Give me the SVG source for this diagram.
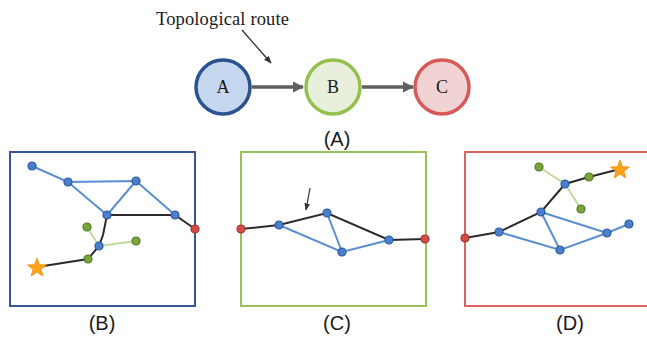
<svg xmlns="http://www.w3.org/2000/svg" width="647" height="341" viewBox="0 0 647 341">
<defs>
<style>
.serif{font-family:"Liberation Serif","Times New Roman",serif;fill:#1a1a1a}
.sans{font-family:"Liberation Sans",Arial,sans-serif;fill:#1a1a1a;font-size:20px;text-anchor:middle}
.bl{stroke:#5b8fd1;stroke-width:2;fill:none}
.bk{stroke:#2b2b2b;stroke-width:2;fill:none}
.lg{stroke:#c3da9e;stroke-width:2;fill:none}
.nb{fill:#4a7fcf;stroke:#2d5a9a;stroke-width:1.2}
.ng{fill:#7aa53c;stroke:#4e7a22;stroke-width:1.2}
.nr{fill:#d24b45;stroke:#a33430;stroke-width:1.2}
.star{fill:#ffa21a;stroke:#f08a00;stroke-width:0.8}
</style>
<marker id="ah" viewBox="0 0 10 10" refX="9" refY="5" markerWidth="3.2" markerHeight="3.2" orient="auto" markerUnits="strokeWidth">
<path d="M0,0 L10,5 L0,10 z" fill="#5f5f5f"/>
</marker>
<marker id="sh" viewBox="0 0 10 10" refX="9" refY="5" markerWidth="6" markerHeight="6" orient="auto" markerUnits="strokeWidth">
<path d="M0,1 L10,5 L0,9 z" fill="#333"/>
</marker>
<polygon id="st" points="0,-10 2.4,-3.3 9.5,-3.1 3.9,1.3 5.9,8.1 0,4.1 -5.9,8.1 -3.9,1.3 -9.5,-3.1 -2.4,-3.3"/>
</defs>
<rect width="647" height="341" fill="#fff"/>

<g id="panel-a">
<text class="serif" x="156" y="25" font-size="18.5" textLength="133">Topological route</text>
<line x1="242" y1="30" x2="271" y2="63" stroke="#333" stroke-width="1.3" marker-end="url(#sh)"/>
<g id="connectors-a">
<line x1="252" y1="87" x2="303" y2="87" stroke="#5f5f5f" stroke-width="3.5" marker-end="url(#ah)"/>
<line x1="362" y1="87" x2="413" y2="87" stroke="#5f5f5f" stroke-width="3.5" marker-end="url(#ah)"/>
</g>
<g id="node-A"><circle cx="223" cy="87" r="27" fill="#c5d7ee" stroke="#2a5190" stroke-width="3.5"/><text class="serif" x="223" y="93" font-size="18" text-anchor="middle">A</text></g>
<g id="node-B"><circle cx="333" cy="87" r="27" fill="#e8f0dc" stroke="#95c04e" stroke-width="3.5"/><text class="serif" x="333" y="93" font-size="18" text-anchor="middle">B</text></g>
<g id="node-C"><circle cx="442" cy="87" r="27" fill="#f1d3d3" stroke="#d65a58" stroke-width="3.5"/><text class="serif" x="442" y="93" font-size="18" text-anchor="middle">C</text></g>
<text class="sans" x="337" y="146">(A)</text>
</g>

<g id="panel-b">
<rect x="10" y="152" width="185" height="154" fill="none" stroke="#34589a" stroke-width="2"/>
<g id="connectors-b">
<path class="bl" d="M32,166 L68,182 L136,181 L175,215 M68,182 L107,215 L136,181"/>
<path class="bk" d="M107,215 L175,215 L195,229 M107,215 L103,235 L99,246 L88,259 L37,267"/>
<path class="lg" d="M87,227 L99,246 L136,241"/>
</g>
<g id="nodes-b">
<circle class="nb" cx="32" cy="166" r="4"/>
<circle class="nb" cx="68" cy="182" r="4"/>
<circle class="nb" cx="136" cy="181" r="4"/>
<circle class="nb" cx="107" cy="215" r="4"/>
<circle class="nb" cx="175" cy="215" r="4"/>
<circle class="nb" cx="99" cy="246" r="4"/>
<circle class="nr" cx="195" cy="229" r="4"/>
<circle class="ng" cx="87" cy="227" r="4"/>
<circle class="ng" cx="136" cy="241" r="4"/>
<circle class="ng" cx="88" cy="259" r="4"/>
<use href="#st" class="star" x="37" y="268"/>
</g>
<text class="sans" x="102" y="330">(B)</text>
</g>

<g id="panel-c">
<rect x="241" y="152" width="185" height="154" fill="none" stroke="#9bc15a" stroke-width="2"/>
<line x1="310" y1="188" x2="306" y2="210" stroke="#333" stroke-width="1.2" marker-end="url(#sh)"/>
<g id="connectors-c">
<path class="bk" d="M241,229 L279,225 L327,213 L389,240 L425,239"/>
<path class="bl" d="M279,225 L342,252 L389,240 M327,213 L342,252"/>
</g>
<g id="nodes-c">
<circle class="nr" cx="241" cy="229" r="4"/>
<circle class="nb" cx="279" cy="225" r="4"/>
<circle class="nb" cx="327" cy="213" r="4"/>
<circle class="nb" cx="342" cy="252" r="4"/>
<circle class="nb" cx="389" cy="240" r="4"/>
<circle class="nr" cx="425" cy="239" r="4"/>
</g>
<text class="sans" x="337" y="330">(C)</text>
</g>

<g id="panel-d">
<rect x="465" y="152" width="200" height="154" fill="none" stroke="#dc6461" stroke-width="2"/>
<g id="connectors-d">
<path class="bl" d="M499,232 L560,250 L607,233 L629,224 M541,212 L560,250 M541,212 L607,233"/>
<path class="bk" d="M465,238 L499,232 L541,212 L565,184 L589,177 L620,169"/>
<path class="lg" d="M539,167 L565,184 L581,209"/>
</g>
<g id="nodes-d">
<circle class="nr" cx="465" cy="238" r="4"/>
<circle class="nb" cx="499" cy="232" r="4"/>
<circle class="nb" cx="541" cy="212" r="4"/>
<circle class="nb" cx="560" cy="250" r="4"/>
<circle class="nb" cx="607" cy="233" r="4"/>
<circle class="nb" cx="629" cy="224" r="4"/>
<circle class="nb" cx="565" cy="184" r="4"/>
<circle class="ng" cx="539" cy="167" r="4"/>
<circle class="ng" cx="589" cy="177" r="4"/>
<circle class="ng" cx="581" cy="209" r="4"/>
<use href="#st" class="star" x="620" y="170"/>
</g>
<text class="sans" x="570" y="330">(D)</text>
</g>
</svg>
